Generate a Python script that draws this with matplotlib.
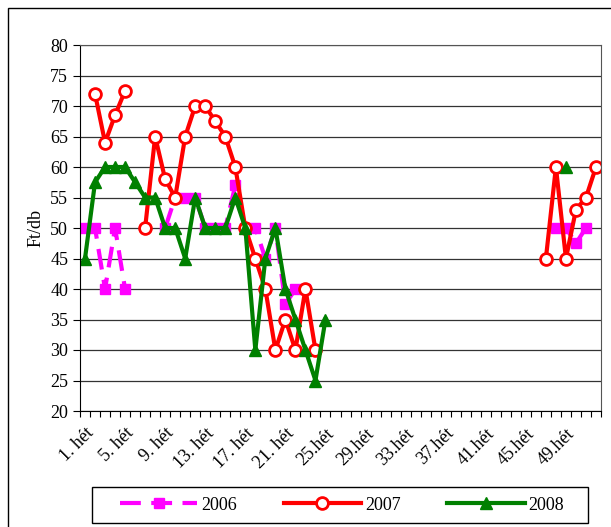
import numpy as np
import matplotlib.pyplot as plt
from matplotlib.patches import Rectangle

plt.rcParams['font.family'] = ['Liberation Serif', 'DejaVu Serif']

# ADATOK (hetek 1..52, None = nincs adat)
weeks = np.arange(1, 53)
n = None

y2006 = [50, 50, 40, 50, 40, n, n, n, 50, 55, 55, 55, 50, 50, 50, 57, 50, 50, 45, 50,
         37.5, 40, 40, n, n, n, n, n, n, n, n, n, n, n, n, n, n, n, n, n,
         n, n, n, n, n, n, n, 50, 50, 47.5, 50, n]
y2007 = [n, 72, 64, 68.5, 72.5, n, 50, 65, 58, 55, 65, 70, 70, 67.5, 65, 60, 50, 45, 40, 30,
         35, 30, 40, 30, n, n, n, n, n, n, n, n, n, n, n, n, n, n, n, n,
         n, n, n, n, n, n, 45, 60, 45, 53, 55, 60]
y2008 = [45, 57.5, 60, 60, 60, 57.5, 55, 55, 50, 50, 45, 55, 50, 50, 50, 55, 50, 30, 45, 50,
         40, 35, 30, 25, 35, n, n, n, n, n, n, n, n, n, n, n, n, n, n, n,
         n, n, n, n, n, n, n, n, 60, n, n, n]

tick_weeks = [1, 5, 9, 13, 17, 21, 25, 29, 33, 37, 41, 45, 49]
tick_labels = ['1. hét', '5. hét', '9. hét', '13. hét', '17. hét', '21. hét', '25.hét',
               '29.hét', '33.hét', '37.hét', '41.hét', '45.hét', '49.hét']


def arr(v):
    return np.array([np.nan if x is None else x for x in v], dtype=float)


fig = plt.figure(figsize=(6.11, 5.27), dpi=100)
ax = fig.add_axes([80 / 611, 1 - 411 / 527, 521 / 611, 366 / 527])

ax.plot(weeks, arr(y2006), color='#ff00ff', linewidth=3, dashes=(5, 2.5),
        marker='s', markersize=7, label='2006')
ax.plot(weeks, arr(y2007), color='#ff0000', linewidth=3, marker='o', markersize=8.5,
        markerfacecolor='white', markeredgecolor='#ff0000', markeredgewidth=2, label='2007')
ax.plot(weeks, arr(y2008), color='#008000', linewidth=3, marker='^', markersize=9,
        label='2008')

ax.set_xlim(0.5, 52.5)
ax.set_ylim(20, 80)
ax.set_yticks(np.arange(20, 81, 5))
ax.yaxis.grid(True, color='#333333', linewidth=0.9)
ax.set_axisbelow(True)

ax.set_xticks(tick_weeks)
ax.set_xticklabels(tick_labels, rotation=45, ha='right', rotation_mode='anchor')
ax.set_xticks(np.arange(0.5, 53, 1), minor=True)
ax.tick_params(axis='x', which='major', length=0, pad=10, labelsize=13)
ax.tick_params(axis='x', which='minor', length=4, direction='out', width=0.8)
ax.tick_params(axis='y', length=5, width=0.8, labelsize=13)

for s in ['top', 'right']:
    ax.spines[s].set_color('#555555')
ax.set_ylabel('Ft/db', fontsize=13, labelpad=4)

# jelmagyarazat keret nelkul, a keretet kulon rajzoljuk (Excel-szeru szeles keret)
leg = fig.legend(loc='center', bbox_to_anchor=(342 / 611, 1 - 505 / 527), ncol=3,
                 fontsize=13, frameon=False,
                 handlelength=4.3, columnspacing=2.6, handletextpad=0.2)
fig.patches.append(Rectangle((92 / 611, 1 - 523 / 527), 496 / 611, 36 / 527,
                             transform=fig.transFigure, fill=False,
                             edgecolor='black', linewidth=1))

# kulso keret
fig.patches.append(Rectangle((8 / 611, -0.01), 1.0, 1 - 8 / 527 + 0.01,
                             transform=fig.transFigure, fill=False,
                             edgecolor='black', linewidth=1))

fig.savefig('out.png', dpi=100)
